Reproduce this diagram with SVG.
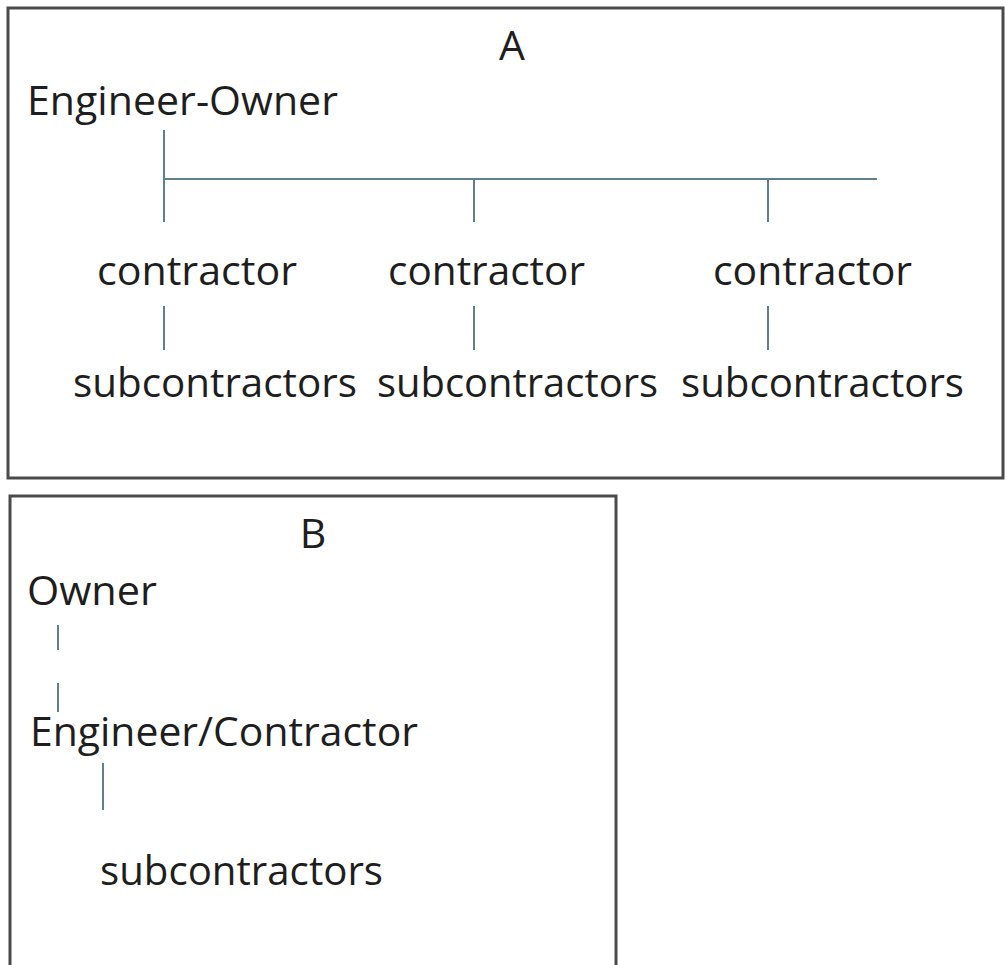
<svg xmlns="http://www.w3.org/2000/svg" width="1006" height="965" viewBox="0 0 1006 965">
<style>
.frame{fill:none;stroke:#4a4a4a;stroke-width:3}
.t{font-family:"Open Sans","Liberation Sans",sans-serif;font-size:41px;fill:#1e1e1e}
.c{stroke:#5f7f8f;stroke-width:2;fill:none}
</style>
<rect width="1006" height="965" fill="#ffffff"/>
<g id="panelA">
<rect class="frame" x="8" y="8" width="995" height="470"/>
<text class="t" x="512" y="60" text-anchor="middle">A</text>
</g>
<g id="panelB">
<rect class="frame" x="10" y="496" width="606" height="480"/>
<text class="t" x="313" y="548" text-anchor="middle">B</text>
</g>
<g id="engineer-owner"><text class="t" x="27" y="115" textLength="311" lengthAdjust="spacingAndGlyphs">Engineer-Owner</text></g>
<g id="contractor1"><text class="t" x="97" y="285" textLength="200" lengthAdjust="spacingAndGlyphs">contractor</text></g>
<g id="contractor2"><text class="t" x="388" y="285" textLength="197" lengthAdjust="spacingAndGlyphs">contractor</text></g>
<g id="contractor3"><text class="t" x="713" y="285" textLength="199" lengthAdjust="spacingAndGlyphs">contractor</text></g>
<g id="sub1"><text class="t" x="73" y="397" textLength="284" lengthAdjust="spacingAndGlyphs">subcontractors</text></g>
<g id="sub2"><text class="t" x="377" y="397" textLength="281" lengthAdjust="spacingAndGlyphs">subcontractors</text></g>
<g id="sub3"><text class="t" x="681" y="397" textLength="283" lengthAdjust="spacingAndGlyphs">subcontractors</text></g>
<g id="owner"><text class="t" x="27" y="605" textLength="130" lengthAdjust="spacingAndGlyphs">Owner</text></g>
<g id="engineer-contractor"><text class="t" x="30" y="746" textLength="388" lengthAdjust="spacingAndGlyphs">Engineer/Contractor</text></g>
<g id="subB"><text class="t" x="100" y="885" textLength="283" lengthAdjust="spacingAndGlyphs">subcontractors</text></g>
<g id="connectors">
<line class="c" x1="164" y1="130" x2="164" y2="222"/>
<line class="c" x1="164" y1="179" x2="877" y2="179"/>
<line class="c" x1="474" y1="179" x2="474" y2="222"/>
<line class="c" x1="768" y1="179" x2="768" y2="222"/>
<line class="c" x1="164" y1="306" x2="164" y2="350"/>
<line class="c" x1="474" y1="306" x2="474" y2="350"/>
<line class="c" x1="768" y1="306" x2="768" y2="350"/>
<line class="c" x1="58" y1="625" x2="58" y2="650"/>
<line class="c" x1="58" y1="683" x2="58" y2="712"/>
<line class="c" x1="103" y1="763" x2="103" y2="810"/>
</g>
</svg>
